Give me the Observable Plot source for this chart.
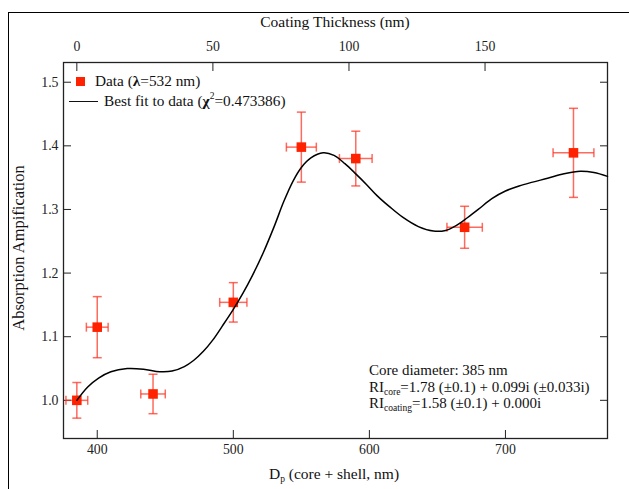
<!DOCTYPE html>
<html><head><meta charset="utf-8">
<script src="https://cdn.jsdelivr.net/npm/d3@7"></script>
<script src="https://cdn.jsdelivr.net/npm/@observablehq/plot@0.6"></script>
<style>
body{margin:0;background:#fff;}
#wrap{position:relative;width:629px;height:489px;overflow:hidden;font-family:"Liberation Serif",serif;color:#111;}
#border{position:absolute;left:7.5px;top:12px;width:800px;height:700px;border-left:1px solid #000;border-top:1px solid #000;}
#chart{position:absolute;left:0;top:0;}
.t{position:absolute;white-space:nowrap;font-size:15.5px;line-height:16px;}
.s{position:absolute;white-space:nowrap;font-size:15.3px;line-height:16px;}
sub{font-size:9.5px;vertical-align:-3px;line-height:0;}
sup{font-size:9.5px;vertical-align:7px;line-height:0;}
</style></head>
<body>
<div id="wrap">
  <div id="border"></div>
  <div id="chart"></div>
  <div class="t" id="topTitle" style="left:0;width:670px;text-align:center;top:14px;">Coating Thickness (nm)</div>
  <div class="t" id="botTitle" style="left:0;width:668px;text-align:center;top:466px;">D<sub>p</sub> (core + shell, nm)</div>
  <div class="t" id="yTitle" style="left:-81px;width:200px;text-align:center;top:240px;font-size:16.5px;transform:rotate(-90deg);">Absorption Ampification</div>
  <div style="position:absolute;left:76px;top:77px;width:9px;height:9px;background:#ff2200;"></div>
  <div class="s" style="left:95px;top:73px;">Data (<b>λ</b>=532 nm)</div>
  <div style="position:absolute;left:69px;top:100.5px;width:29px;height:1.5px;background:#111;"></div>
  <div class="s" style="left:104px;top:93px;">Best fit to data (<b>χ</b><sup>2</sup>=0.473386)</div>
  <div class="s" style="left:369px;top:362px;font-size:15px;">Core diameter: 385 nm</div>
  <div class="s" style="left:369px;top:379px;font-size:15px;">RI<sub>core</sub>=1.78 (±0.1) + 0.099i (±0.033i)</div>
  <div class="s" style="left:369px;top:395px;font-size:15px;">RI<sub>coating</sub>=1.58 (±0.1) + 0.000i</div>
</div>
<script>
// ---- data ----
const coreDiameter = 385;
const diam    = [385, 400, 441, 500, 550, 590, 670, 750];
const amp     = [1.000, 1.115, 1.010, 1.154, 1.398, 1.380, 1.272, 1.389];
const ampErr  = [0.028, 0.048, 0.031, 0.031, 0.055, 0.043, 0.033, 0.070];
const diamErr = [8, 8, 9, 10, 11, 12, 13, 15];
const fitD = [385,393,401,410,422,434,446,455,464,471,478,485,492,500,507,514,522,530,537,544,550,557,566,574,582,590,598,606,615,625,636,647,656,664,672,680,690,700,710,720,731,743,755,765,775];
const fitV = [1.000,1.021,1.035,1.045,1.050,1.049,1.045,1.046,1.053,1.063,1.077,1.095,1.117,1.143,1.168,1.196,1.232,1.273,1.312,1.345,1.366,1.381,1.389,1.385,1.372,1.356,1.339,1.321,1.304,1.287,1.273,1.266,1.267,1.275,1.287,1.300,1.317,1.329,1.337,1.343,1.349,1.356,1.360,1.358,1.352];
const bottomTicks = [400, 500, 600, 700];
const coatingTicks = [0, 50, 100, 150];
const yTicks = [1.0, 1.1, 1.2, 1.3, 1.4, 1.5];

const rows = diam.map((d, i) => ({d, v: amp[i], ey: ampErr[i], ex: diamErr[i]}));
const fit = fitD.map((d, i) => ({d, v: fitV[i]}));

const hCap = {draw(ctx, size){ const r = Math.sqrt(size/Math.PI); ctx.moveTo(-r,0); ctx.lineTo(r,0); }};
const vCap = {draw(ctx, size){ const r = Math.sqrt(size/Math.PI); ctx.moveTo(0,-r); ctx.lineTo(0,r); }};
const errColor = "#ff3020";
const errStyle = {stroke: errColor, strokeWidth: 1.5, strokeOpacity: 0.72};

const chart = Plot.plot({
  width: 629, height: 489,
  marginLeft: 63, marginRight: 22, marginTop: 62, marginBottom: 51,
  style: {fontFamily: '"Liberation Serif", serif', fontSize: "13.8px", color: "#222", background: "transparent"},
  x: {domain: [375.2, 775]},
  y: {domain: [0.940, 1.531]},
  marks: [
    Plot.axisX({anchor: "bottom", ticks: bottomTicks, tickFormat: d => String(d), tickSize: -8, tickPadding: 14, label: null}),
    Plot.axisX({anchor: "top", ticks: coatingTicks.map(t => coreDiameter + 2*t), tickFormat: d => String((d - coreDiameter)/2), tickSize: -8, tickPadding: 20, label: null}),
    Plot.axisY({anchor: "left", ticks: yTicks, tickFormat: d => d.toFixed(1), tickSize: -8, tickPadding: 13, label: null}),
    Plot.axisY({anchor: "right", ticks: yTicks, tickFormat: () => "", tickSize: -8, label: null}),
    Plot.frame({stroke: "#222", strokeWidth: 1.3}),
    Plot.link(rows, {x1: r => r.d - r.ex, x2: r => r.d + r.ex, y1: "v", y2: "v", ...errStyle}),
    Plot.link(rows, {x1: "d", x2: "d", y1: r => r.v - r.ey, y2: r => r.v + r.ey, ...errStyle}),
    Plot.dot(rows, {x: r => r.d - r.ex, y: "v", symbol: vCap, r: 4.5, fill: "none", ...errStyle}),
    Plot.dot(rows, {x: r => r.d + r.ex, y: "v", symbol: vCap, r: 4.5, fill: "none", ...errStyle}),
    Plot.dot(rows, {x: "d", y: r => r.v - r.ey, symbol: hCap, r: 4.5, fill: "none", ...errStyle}),
    Plot.dot(rows, {x: "d", y: r => r.v + r.ey, symbol: hCap, r: 4.5, fill: "none", ...errStyle}),
    Plot.dot(rows, {x: "d", y: "v", symbol: "square", r: 5.4, fill: "#ff2200", stroke: null}),
    Plot.line(fit, {x: "d", y: "v", curve: "catmull-rom", stroke: "#000", strokeWidth: 1.5})
  ]
});
document.getElementById("chart").appendChild(chart);
</script>
</body></html>
